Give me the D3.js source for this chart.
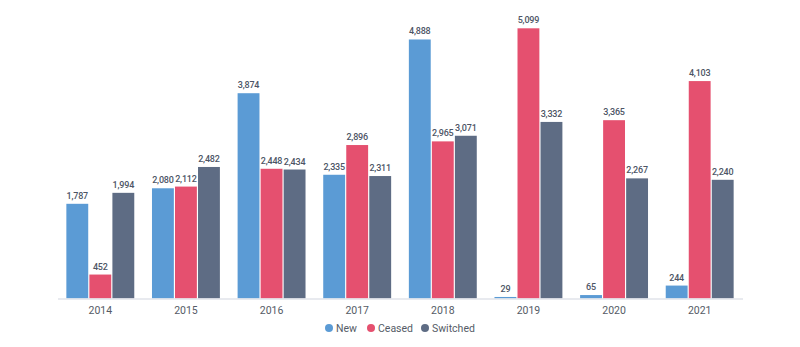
<!DOCTYPE html>
<html><head><meta charset="utf-8">
<script src="https://cdn.jsdelivr.net/npm/d3@7"></script>
<style>body{margin:0;background:#fff;}svg{display:block;font-family:Roboto,"Noto Sans",sans-serif;}</style>
</head><body><svg id="c" width="800" height="347"></svg>
<script>
const categories = ["2014","2015","2016","2017","2018","2019","2020","2021"];
const seriesNames = ["New","Ceased","Switched"];
const newVals = [1787,2080,3874,2335,4888,29,65,244];
const ceasedVals = [452,2112,2448,2896,2965,5099,3365,4103];
const switchedVals = [1994,2482,2434,2311,3071,3332,2267,2240];
const colors = ["#5b9bd5","#e5506f","#5e6c84"];
const seriesVals = [newVals, ceasedVals, switchedVals];

const svg = d3.select("#c");
const baseY = 298.5, topY = 28.3;
const x = d3.scaleBand().domain(categories).range([57.5, 742.5]).paddingInner(0.18).paddingOuter(0.09);
const x1 = d3.scaleBand().domain(seriesNames).range([0, x.bandwidth()]).padding(0.05);
const y = d3.scaleLinear().domain([0, 5099]).range([baseY, topY]);

const g = svg.append("g");
seriesNames.forEach((s, si) => {
  const vals = seriesVals[si];
  g.selectAll(null).data(categories).enter().append("rect")
    .attr("x", c => x(c) + x1(s))
    .attr("y", (c,i) => y(vals[i]))
    .attr("width", x1.bandwidth())
    .attr("height", (c,i) => baseY - y(vals[i]))
    .attr("fill", colors[si]);
  g.selectAll(null).data(categories).enter().append("text")
    .attr("x", c => x(c) + x1(s) + x1.bandwidth()/2)
    .attr("y", (c,i) => y(vals[i]) - 5)
    .attr("text-anchor", "middle")
    .attr("font-size", "9px").attr("font-weight", "500").attr("letter-spacing", "-0.2px").attr("fill", "#4d5566")
    .text((c,i) => d3.format(",")(vals[i]));
});

const ax = svg.append("g").attr("transform", `translate(0,${baseY})`)
  .call(d3.axisBottom(x).tickSize(0).tickPadding(8).tickSizeOuter(0));
ax.select(".domain").attr("stroke", "#e0e3ea").attr("stroke-width", 1.5);
ax.selectAll("text").attr("font-size", "10.5px").attr("fill", "#555b66").attr("font-family", "Roboto,sans-serif");

const legX = [329, 371, 425];
const leg = svg.append("g");
seriesNames.forEach((s, i) => {
  leg.append("circle").attr("cx", legX[i]).attr("cy", 328).attr("r", 4).attr("fill", colors[i]);
  leg.append("text").attr("x", legX[i] + 7).attr("y", 332).attr("font-size", "10.5px").attr("fill", "#555b66").text(s);
});
</script></body></html>
